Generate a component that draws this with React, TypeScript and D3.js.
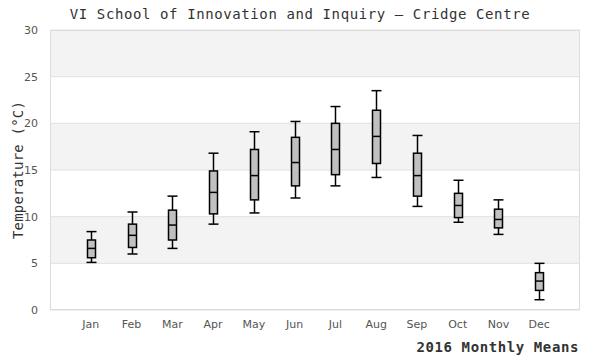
import React from "react";
import * as d3 from "d3";

const months = ["Jan", "Feb", "Mar", "Apr", "May", "Jun", "Jul", "Aug", "Sep", "Oct", "Nov", "Dec"];
const whiskerLow = [5.1, 6.0, 6.6, 9.2, 10.4, 12.0, 13.3, 14.2, 11.1, 9.4, 8.1, 1.1];
const q1 = [5.6, 6.7, 7.5, 10.3, 11.8, 13.3, 14.5, 15.7, 12.2, 9.9, 8.8, 2.1];
const median = [6.6, 8.0, 9.1, 12.6, 14.4, 15.8, 17.2, 18.6, 14.4, 11.2, 9.7, 3.1];
const q3 = [7.5, 9.2, 10.7, 14.9, 17.2, 18.5, 20.0, 21.4, 16.8, 12.5, 10.8, 4.0];
const whiskerHigh = [8.4, 10.5, 12.2, 16.8, 19.1, 20.2, 21.8, 23.5, 18.7, 13.9, 11.8, 5.0];
const yTicks = [0, 5, 10, 15, 20, 25, 30];

const W = 600, H = 360;
const L = 50, R = 580, T = 30, B = 310;

export default function App() {
  const x = d3.scalePoint<string>().domain(months).range([L, R]).padding(1);
  const y = d3.scaleLinear().domain([0, 30]).range([B, T]);
  const bands = d3.range(0, 30, 5);
  const boxW = 8;
  const capW = 10;
  return (
    <svg width={W} height={H} style={{ position: "absolute", left: 0, top: 0 }}>
      <rect x={0} y={0} width={W} height={H} fill="#fff" />
      {bands.map((b, i) => (
        <rect key={"b" + b} x={L} y={y(b + 5)} width={R - L} height={y(b) - y(b + 5)}
          fill={i % 2 === 1 ? "#f3f3f3" : "#ffffff"} />
      ))}
      {yTicks.map((t) => (
        <line key={"g" + t} x1={L} x2={R} y1={y(t)} y2={y(t)} stroke="#e0e0e0" strokeWidth={1} />
      ))}
      <rect x={L + 0.5} y={T + 0.5} width={R - L - 1} height={B - T - 1} fill="none" stroke="#dcdcdc" strokeWidth={1} />
      {yTicks.map((t) => (
        <text key={"yt" + t} x={38} y={y(t)} dy="0.35em" textAnchor="end" fontFamily="DejaVu Sans" fontSize={11} fill="#555">{t}</text>
      ))}
      {months.map((m) => (
        <text key={"xt" + m} x={x(m)} y={328} textAnchor="middle" fontFamily="DejaVu Sans" fontSize={11} fill="#555">{m}</text>
      ))}
      {months.map((m, i) => {
        const cx = Math.round(x(m)!) + 0.5;
        return (
          <g key={"box" + m} stroke="#000" strokeWidth={1.5}>
            <line x1={cx} x2={cx} y1={y(whiskerHigh[i])} y2={y(q3[i])} />
            <line x1={cx} x2={cx} y1={y(q1[i])} y2={y(whiskerLow[i])} />
            <line x1={cx - capW / 2} x2={cx + capW / 2} y1={y(whiskerHigh[i])} y2={y(whiskerHigh[i])} />
            <line x1={cx - capW / 2} x2={cx + capW / 2} y1={y(whiskerLow[i])} y2={y(whiskerLow[i])} />
            <rect x={cx - boxW / 2} y={y(q3[i])} width={boxW} height={y(q1[i]) - y(q3[i])} fill="#c0c0c0" />
            <line x1={cx - boxW / 2} x2={cx + boxW / 2} y1={y(median[i])} y2={y(median[i])} />
          </g>
        );
      })}
      <text x={300} y={19} textAnchor="middle" fontFamily="DejaVu Sans Mono" fontSize={14} letterSpacing={0.6} fill="#333">
        VI School of Innovation and Inquiry – Cridge Centre
      </text>
      <text x={579} y={352} textAnchor="end" fontFamily="DejaVu Sans Mono" fontSize={14} fontWeight="bold" letterSpacing={0.6} fill="#333">
        2016 Monthly Means
      </text>
      <text transform={`translate(23,${(T + B) / 2}) rotate(-90)`} textAnchor="middle" fontFamily="DejaVu Sans Mono" fontSize={14} letterSpacing={0.2} fill="#333">
        Temperature (°C)
      </text>
    </svg>
  );
}
